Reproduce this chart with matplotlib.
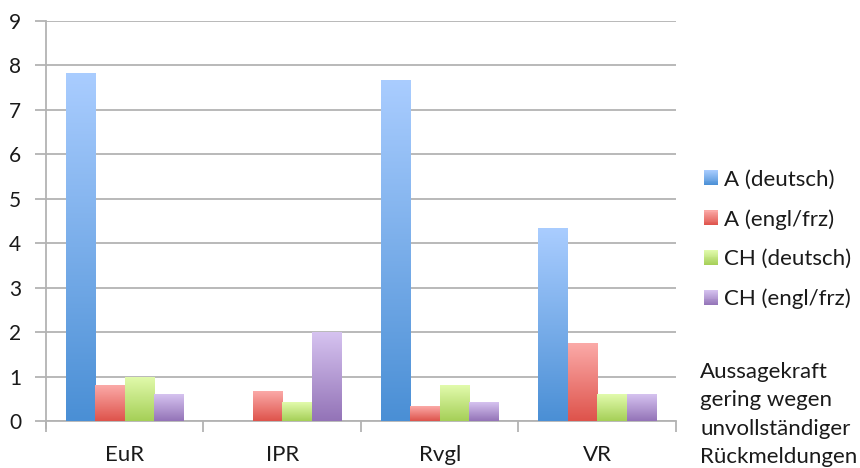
import numpy as np
import matplotlib
matplotlib.use("Agg")
import matplotlib.pyplot as plt
from matplotlib.colors import LinearSegmentedColormap
from matplotlib.patches import Patch, Rectangle
from matplotlib.legend_handler import HandlerBase

plt.rcParams['font.family'] = ['Lato', 'DejaVu Sans']

categories = ["EuR", "IPR", "Rvgl", "VR"]
series_names = ["A (deutsch)", "A (engl/frz)", "CH (deutsch)", "CH (engl/frz)"]
a_deutsch = [7.83, 0.0, 7.67, 4.33]
a_englfrz = [0.8, 0.67, 0.33, 1.75]
ch_deutsch = [1.0, 0.42, 0.8, 0.6]
ch_englfrz = [0.6, 2.0, 0.42, 0.6]
y_ticks = list(range(0, 10))
note = "Aussagekraft\ngering wegen\nunvollständiger\nRückmeldungen"

series = [a_deutsch, a_englfrz, ch_deutsch, ch_englfrz]
# (top colour, bottom colour) of each series' vertical gradient
gradients = [("#aacdff", "#4a8fd5"),
             ("#fbaaa8", "#de534b"),
             ("#e2fbad", "#a5cf57"),
             ("#d6c3f0", "#9373b7")]
cmaps = [LinearSegmentedColormap.from_list(f"g{i}", [bot, top])
         for i, (top, bot) in enumerate(gradients)]


class GradientHandle(Patch):
    def __init__(self, cmap):
        super().__init__()
        self.cmap = cmap


class HandlerGradient(HandlerBase):
    """Legend key drawn as a stack of thin stripes forming a vertical gradient."""
    def create_artists(self, legend, orig_handle, xdescent, ydescent,
                       width, height, fontsize, trans):
        n = 16
        artists = []
        for k in range(n):
            r = Rectangle((-xdescent, -ydescent + height * k / n), width, height / n + 0.3,
                          facecolor=orig_handle.cmap((k + 0.5) / n), edgecolor="none",
                          transform=trans)
            artists.append(r)
        return artists


fig = plt.figure(figsize=(8.6, 4.68), dpi=100)
ax = fig.add_axes([0.0535, 0.1004, 0.7325, 0.8556])

n_cat = len(categories)
n_ser = len(series)
group_w = 0.75
bar_w = group_w / n_ser
x = np.arange(n_cat)

text_col = "#1a1a1a"
grid_col = "#b3b3b3"

for i, (vals, cmap) in enumerate(zip(series, cmaps)):
    offs = (i - (n_ser - 1) / 2) * bar_w
    bars = ax.bar(x + offs, vals, width=bar_w, color="none", edgecolor="none", zorder=3)
    for b, v in zip(bars, vals):
        if v <= 0:
            continue
        grad = np.linspace(0, 1, 256).reshape(-1, 1)
        x0 = b.get_x()
        im = ax.imshow(grad, cmap=cmap, origin="lower", aspect="auto",
                       extent=[x0, x0 + b.get_width(), 0, v], zorder=3,
                       interpolation="bilinear")
        im.set_clip_path(b)

ax.set_xlim(-0.5, n_cat - 0.5)
ax.set_ylim(0, 9)
ax.set_yticks(y_ticks)
ax.set_yticklabels([str(t) for t in y_ticks], fontsize=15, color=text_col)
ax.yaxis.grid(True, color=grid_col, linewidth=1.3, zorder=0)
ax.set_axisbelow(True)

ax.set_xticks(x)
ax.set_xticklabels(categories, fontsize=16, color=text_col)
ax.tick_params(axis="x", length=0, pad=17)
ax.tick_params(axis="y", length=8, width=1.3, color=grid_col, pad=10)

# category separators on the x axis
ax.set_xticks(np.arange(-0.5, n_cat, 1.0), minor=True)
ax.tick_params(axis="x", which="minor", length=8, width=1.3, color=grid_col)

for side in ("top", "right"):
    ax.spines[side].set_visible(False)
ax.spines["left"].set_color(grid_col)
ax.spines["left"].set_linewidth(1.3)
ax.spines["bottom"].set_color(grid_col)
ax.spines["bottom"].set_linewidth(1.3)
ax.spines["left"].set_bounds(-0.16, 9)

handles = [GradientHandle(c) for c in cmaps]
leg = fig.legend(handles, series_names, loc="upper left", bbox_to_anchor=(0.8186, 0.6376),
                 frameon=False, fontsize=16, handlelength=0.63, handleheight=0.63,
                 handletextpad=0.27, labelspacing=0.88, labelcolor=text_col,
                 borderpad=0, borderaxespad=0,
                 handler_map={GradientHandle: HandlerGradient()})

fig.text(0.814, 0.2265, note, fontsize=16, color=text_col, va="top", ha="left",
         linespacing=1.52)

fig.savefig("out.png", dpi=100)
